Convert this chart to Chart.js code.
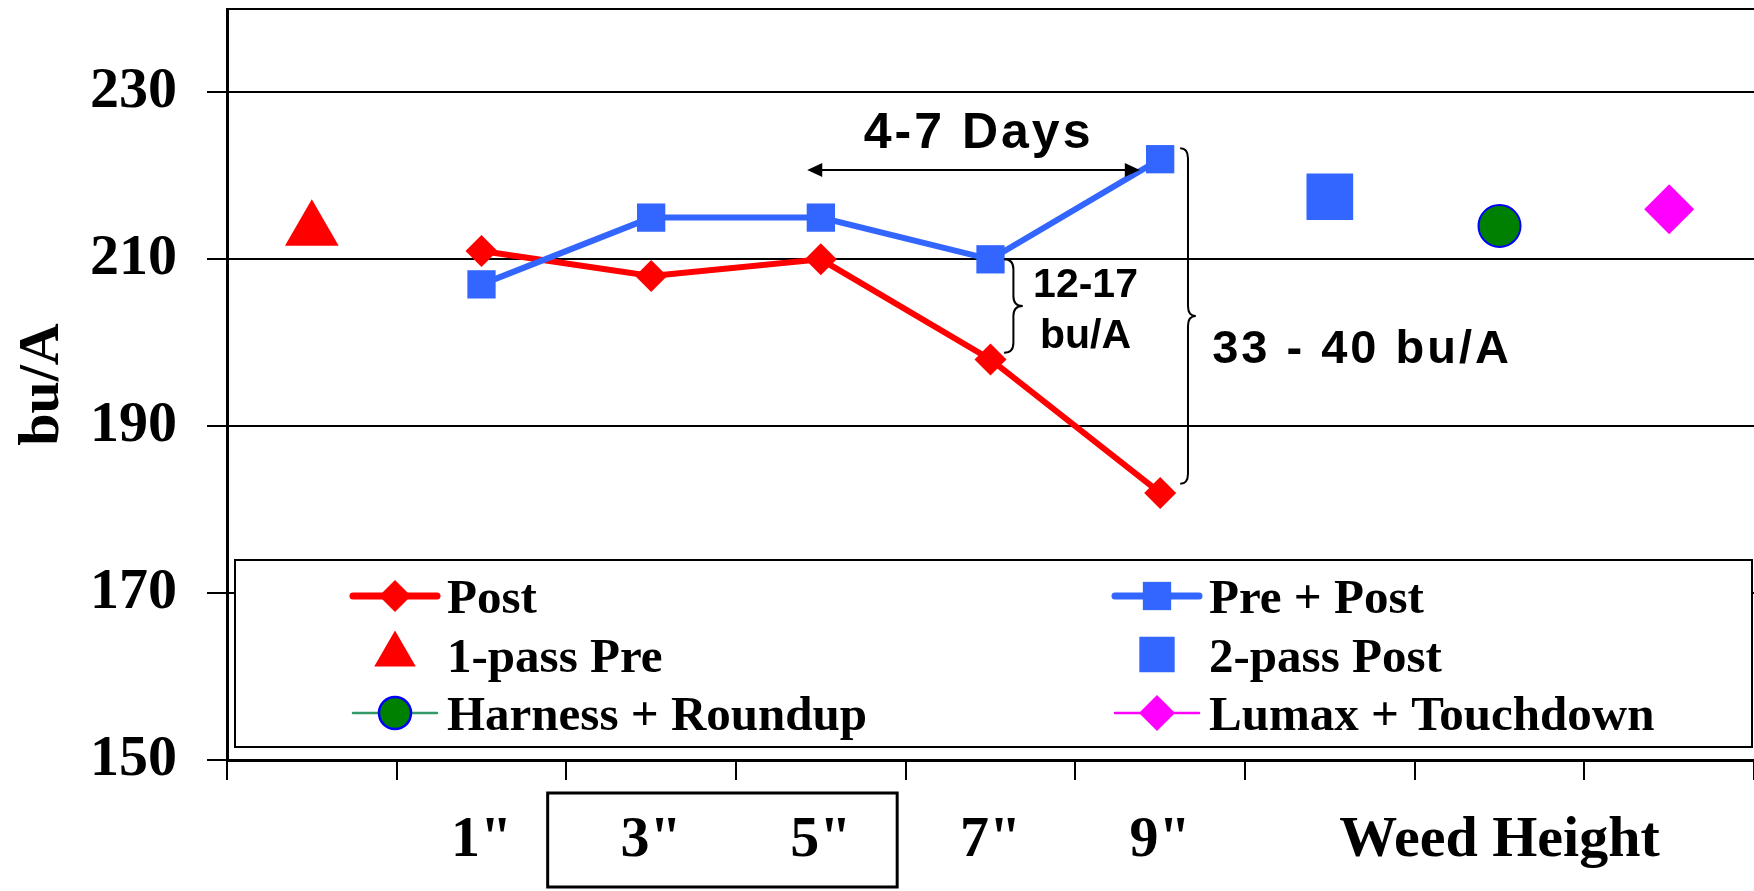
<!DOCTYPE html>
<html lang="en">
<head>
  <meta charset="UTF-8" />
  <title>Yield by Weed Height</title>
  <script src="https://cdn.jsdelivr.net/npm/chart.js"></script>
  <style>
    body { margin: 0; background: #fff; }
    #wrap { width: 1754px; height: 891px; }
  </style>
</head>

<body>
  <div id="wrap"><canvas id="myChart"></canvas></div>

  <script>
    /* chart data */
    // weed height slots along the x axis
    const heights = ["", '1"', '3"', '5"', '7"', '9"', "", "Weed Height", ""];
    // yield, bu/A (null = no point in that slot)
    const post = [null, 211, 208, 210, 198, 182, null, null, null];
    const prePost = [null, 207, 215, 215, 210, 222, null, null, null];
    const onePassPre = [213.5, null, null, null, null, null, null, null, null];
    const twoPassPost = [null, null, null, null, null, null, 217.5, null, null];
    const harnessRoundup = [null, null, null, null, null, null, null, 214, null];
    const lumaxTouchdown = [null, null, null, null, null, null, null, null, 216];
    // y axis tick labels
    const yTicks = [150, 170, 190, 210, 230];
    // callouts
    const daysNote = "4-7 Days";
    const smallGap = ["12-17", "bu/A"];
    const bigGap = "33 - 40 bu/A";

    const serif = "'Liberation Serif', 'Times New Roman', serif";
    const sans = "'Liberation Sans', Arial, sans-serif";

    function arrowHead(ctx, x, y, dir) {
      ctx.beginPath();
      ctx.moveTo(x, y);
      ctx.lineTo(x + dir * 15, y - 7);
      ctx.lineTo(x + dir * 15, y + 7);
      ctx.closePath();
      ctx.fill();
    }

    // curly brace opening to the left, tip pointing right
    function brace(ctx, xh, xt, yTop, yBot) {
      const xs = (xh + xt) / 2, ym = (yTop + yBot) / 2;
      const r = Math.min(10, (yBot - yTop) / 4);
      ctx.beginPath();
      ctx.moveTo(xh, yTop);
      ctx.quadraticCurveTo(xs, yTop, xs, yTop + r);
      ctx.lineTo(xs, ym - r);
      ctx.quadraticCurveTo(xs, ym, xt, ym);
      ctx.quadraticCurveTo(xs, ym, xs, ym + r);
      ctx.lineTo(xs, yBot - r);
      ctx.quadraticCurveTo(xs, yBot, xh, yBot);
      ctx.stroke();
    }

    /* annotations, frame, box and legend */
    const extras = {
      id: "extras",
      afterDatasetsDraw(chart) {
        const { ctx, chartArea: a, scales: { x, y } } = chart;
        ctx.save();
        ctx.strokeStyle = "#000";
        ctx.fillStyle = "#000";

        // top frame
        ctx.lineWidth = 2;
        ctx.beginPath();
        ctx.moveTo(a.left, a.top);
        ctx.lineTo(a.right, a.top);
        ctx.stroke();

        // 4-7 days arrow
        const ay = y.getPixelForValue(220.7);
        const ax1 = x.getPixelForValue(2.92), ax2 = x.getPixelForValue(4.88);
        ctx.lineWidth = 2;
        ctx.beginPath();
        ctx.moveTo(ax1 + 10, ay);
        ctx.lineTo(ax2 - 10, ay);
        ctx.stroke();
        arrowHead(ctx, ax1, ay, 1);
        arrowHead(ctx, ax2, ay, -1);

        ctx.textAlign = "center";
        ctx.textBaseline = "middle";
        ctx.font = "bold 50px " + sans;
        ctx.letterSpacing = "3px";
        ctx.fillText(daysNote, x.getPixelForValue(3.93), y.getPixelForValue(225));

        // braces
        ctx.lineWidth = 2;
        brace(ctx, x.getPixelForValue(4.08), x.getPixelForValue(4.19),
          y.getPixelForValue(210), y.getPixelForValue(198.8));
        brace(ctx, x.getPixelForValue(5.118), x.getPixelForValue(5.21),
          y.getPixelForValue(223.3), y.getPixelForValue(183.1));

        ctx.letterSpacing = "0px";
        ctx.font = "bold 41px " + sans;
        ctx.fillText(smallGap[0], x.getPixelForValue(4.56), y.getPixelForValue(206.9));
        ctx.fillText(smallGap[1], x.getPixelForValue(4.56), y.getPixelForValue(200.7));

        ctx.font = "bold 47px " + sans;
        ctx.letterSpacing = "3px";
        ctx.fillText(bigGap, x.getPixelForValue(6.19), y.getPixelForValue(199.1));
        ctx.letterSpacing = "0px";
        ctx.restore();
      },

      afterDraw(chart) {
        const { ctx, chartArea: a, scales: { x } } = chart;
        ctx.save();

        // box round 3" and 5"
        ctx.strokeStyle = "#000";
        ctx.lineWidth = 3;
        const bx1 = x.getPixelForValue(1.39), bx2 = x.getPixelForValue(3.45);
        ctx.strokeRect(bx1, a.bottom + 33, bx2 - bx1, chart.height - a.bottom - 37);

        // legend
        const L = a.left + 8, R = a.right - 2, B = a.bottom - 13, T = B - 187;
        ctx.fillStyle = "#fff";
        ctx.fillRect(L, T, R - L, B - T);
        ctx.lineWidth = 2;
        ctx.strokeRect(L, T, R - L, B - T);

        chart.data.datasets.forEach((ds, i) => {
          const col = i % 2, row = Math.floor(i / 2);
          const cx = L + (col ? 922 : 160);
          const cy = T + 36 + row * 58.5;
          if (ds.legendLine) {
            ctx.strokeStyle = ds.legendLine;
            ctx.lineWidth = ds.legendLineWidth;
            ctx.lineCap = "round";
            ctx.beginPath();
            ctx.moveTo(cx - 42, cy);
            ctx.lineTo(cx + 42, cy);
            ctx.stroke();
          }
          ctx.fillStyle = ds.pointBackgroundColor;
          ctx.strokeStyle = ds.pointBorderColor;
          Chart.helpers.drawPoint(ctx, {
            pointStyle: ds.pointStyle,
            radius: ds.legendRadius,
            rotation: 0,
            borderWidth: ds.pointBorderWidth || 0,
          }, cx, cy);

          ctx.fillStyle = "#000";
          ctx.font = "bold 49px " + serif;
          ctx.textAlign = "left";
          ctx.textBaseline = "alphabetic";
          ctx.fillText(ds.label, cx + 52, cy + 17);
        });
        ctx.restore();
      },
    };

    const ctx = document.getElementById("myChart").getContext("2d");
    const chart = new Chart(ctx, {
      type: "line",
      data: {
        labels: heights,
        datasets: [
          {
            label: "Post",
            data: post,
            borderColor: "#FF0000",
            borderWidth: 6,
            pointStyle: "rectRot",
            pointRadius: 16,
            pointBackgroundColor: "#FF0000",
            pointBorderColor: "#FF0000",
            pointBorderWidth: 0,
            legendLine: "#FF0000",
            legendLineWidth: 7,
            legendRadius: 16,
            order: 2,
          },
          {
            label: "Pre + Post",
            data: prePost,
            borderColor: "#3366FF",
            borderWidth: 6,
            pointStyle: "rect",
            pointRadius: 20,
            pointBackgroundColor: "#3366FF",
            pointBorderColor: "#3366FF",
            pointBorderWidth: 0,
            legendLine: "#3366FF",
            legendLineWidth: 7,
            legendRadius: 20,
            order: 1,
          },
          {
            label: "1-pass Pre",
            data: onePassPre,
            showLine: false,
            pointStyle: "triangle",
            pointRadius: 31,
            pointBackgroundColor: "#FF0000",
            pointBorderColor: "#FF0000",
            pointBorderWidth: 0,
            legendRadius: 24,
          },
          {
            label: "2-pass Post",
            data: twoPassPost,
            showLine: false,
            pointStyle: "rect",
            pointRadius: 33,
            pointBackgroundColor: "#3366FF",
            pointBorderColor: "#3366FF",
            pointBorderWidth: 0,
            legendRadius: 25,
          },
          {
            label: "Harness + Roundup",
            data: harnessRoundup,
            showLine: false,
            pointStyle: "circle",
            pointRadius: 21,
            pointBackgroundColor: "#008000",
            pointBorderColor: "#0000FF",
            pointBorderWidth: 2,
            legendLine: "#339966",
            legendLineWidth: 2.5,
            legendRadius: 16,
          },
          {
            label: "Lumax + Touchdown",
            data: lumaxTouchdown,
            showLine: false,
            pointStyle: "rectRot",
            pointRadius: 25,
            pointBackgroundColor: "#FF00FF",
            pointBorderColor: "#FF00FF",
            pointBorderWidth: 0,
            legendLine: "#FF00FF",
            legendLineWidth: 2.5,
            legendRadius: 18,
          },
        ],
      },
      options: {
        responsive: true,
        maintainAspectRatio: false,
        animation: false,
        spanGaps: false,
        layout: { autoPadding: false, padding: { left: 0, top: 9, right: 0, bottom: 0 } },
        plugins: {
          legend: { display: false },
          tooltip: { enabled: false },
        },
        scales: {
          x: {
            offset: true,
            grid: {
              offset: true,
              drawOnChartArea: false,
              drawTicks: true,
              tickLength: 20,
              color: "#000",
              lineWidth: 2,
            },
            border: { color: "#000", width: 3 },
            ticks: {
              autoSkip: false,
              maxRotation: 0,
              minRotation: 0,
              padding: 26,
              color: "#000",
              font: { family: serif, size: 58, weight: "bold" },
            },
            afterFit: (s) => {
              s.height = 131;
              s.paddingLeft = 0;
              s.paddingRight = 0;
            },
          },
          y: {
            min: 150,
            max: 240,
            afterBuildTicks: (s) => {
              s.ticks = yTicks.map((v) => ({ value: v }));
            },
            grid: {
              color: "#000",
              lineWidth: 2,
              tickLength: 20,
              drawTicks: true,
            },
            border: { color: "#000", width: 3 },
            ticks: {
              padding: 30,
              color: "#000",
              font: { family: serif, size: 58, weight: "bold" },
            },
            title: {
              display: true,
              text: "bu/A",
              color: "#000",
              padding: { top: 8, bottom: 0 },
              font: { family: serif, size: 58, weight: "bold" },
            },
            afterFit: (s) => {
              s.width = 227;
              s.paddingTop = 0;
              s.paddingBottom = 0;
            },
          },
        },
      },
      plugins: [extras],
    });
  </script>
</body>

</html>
